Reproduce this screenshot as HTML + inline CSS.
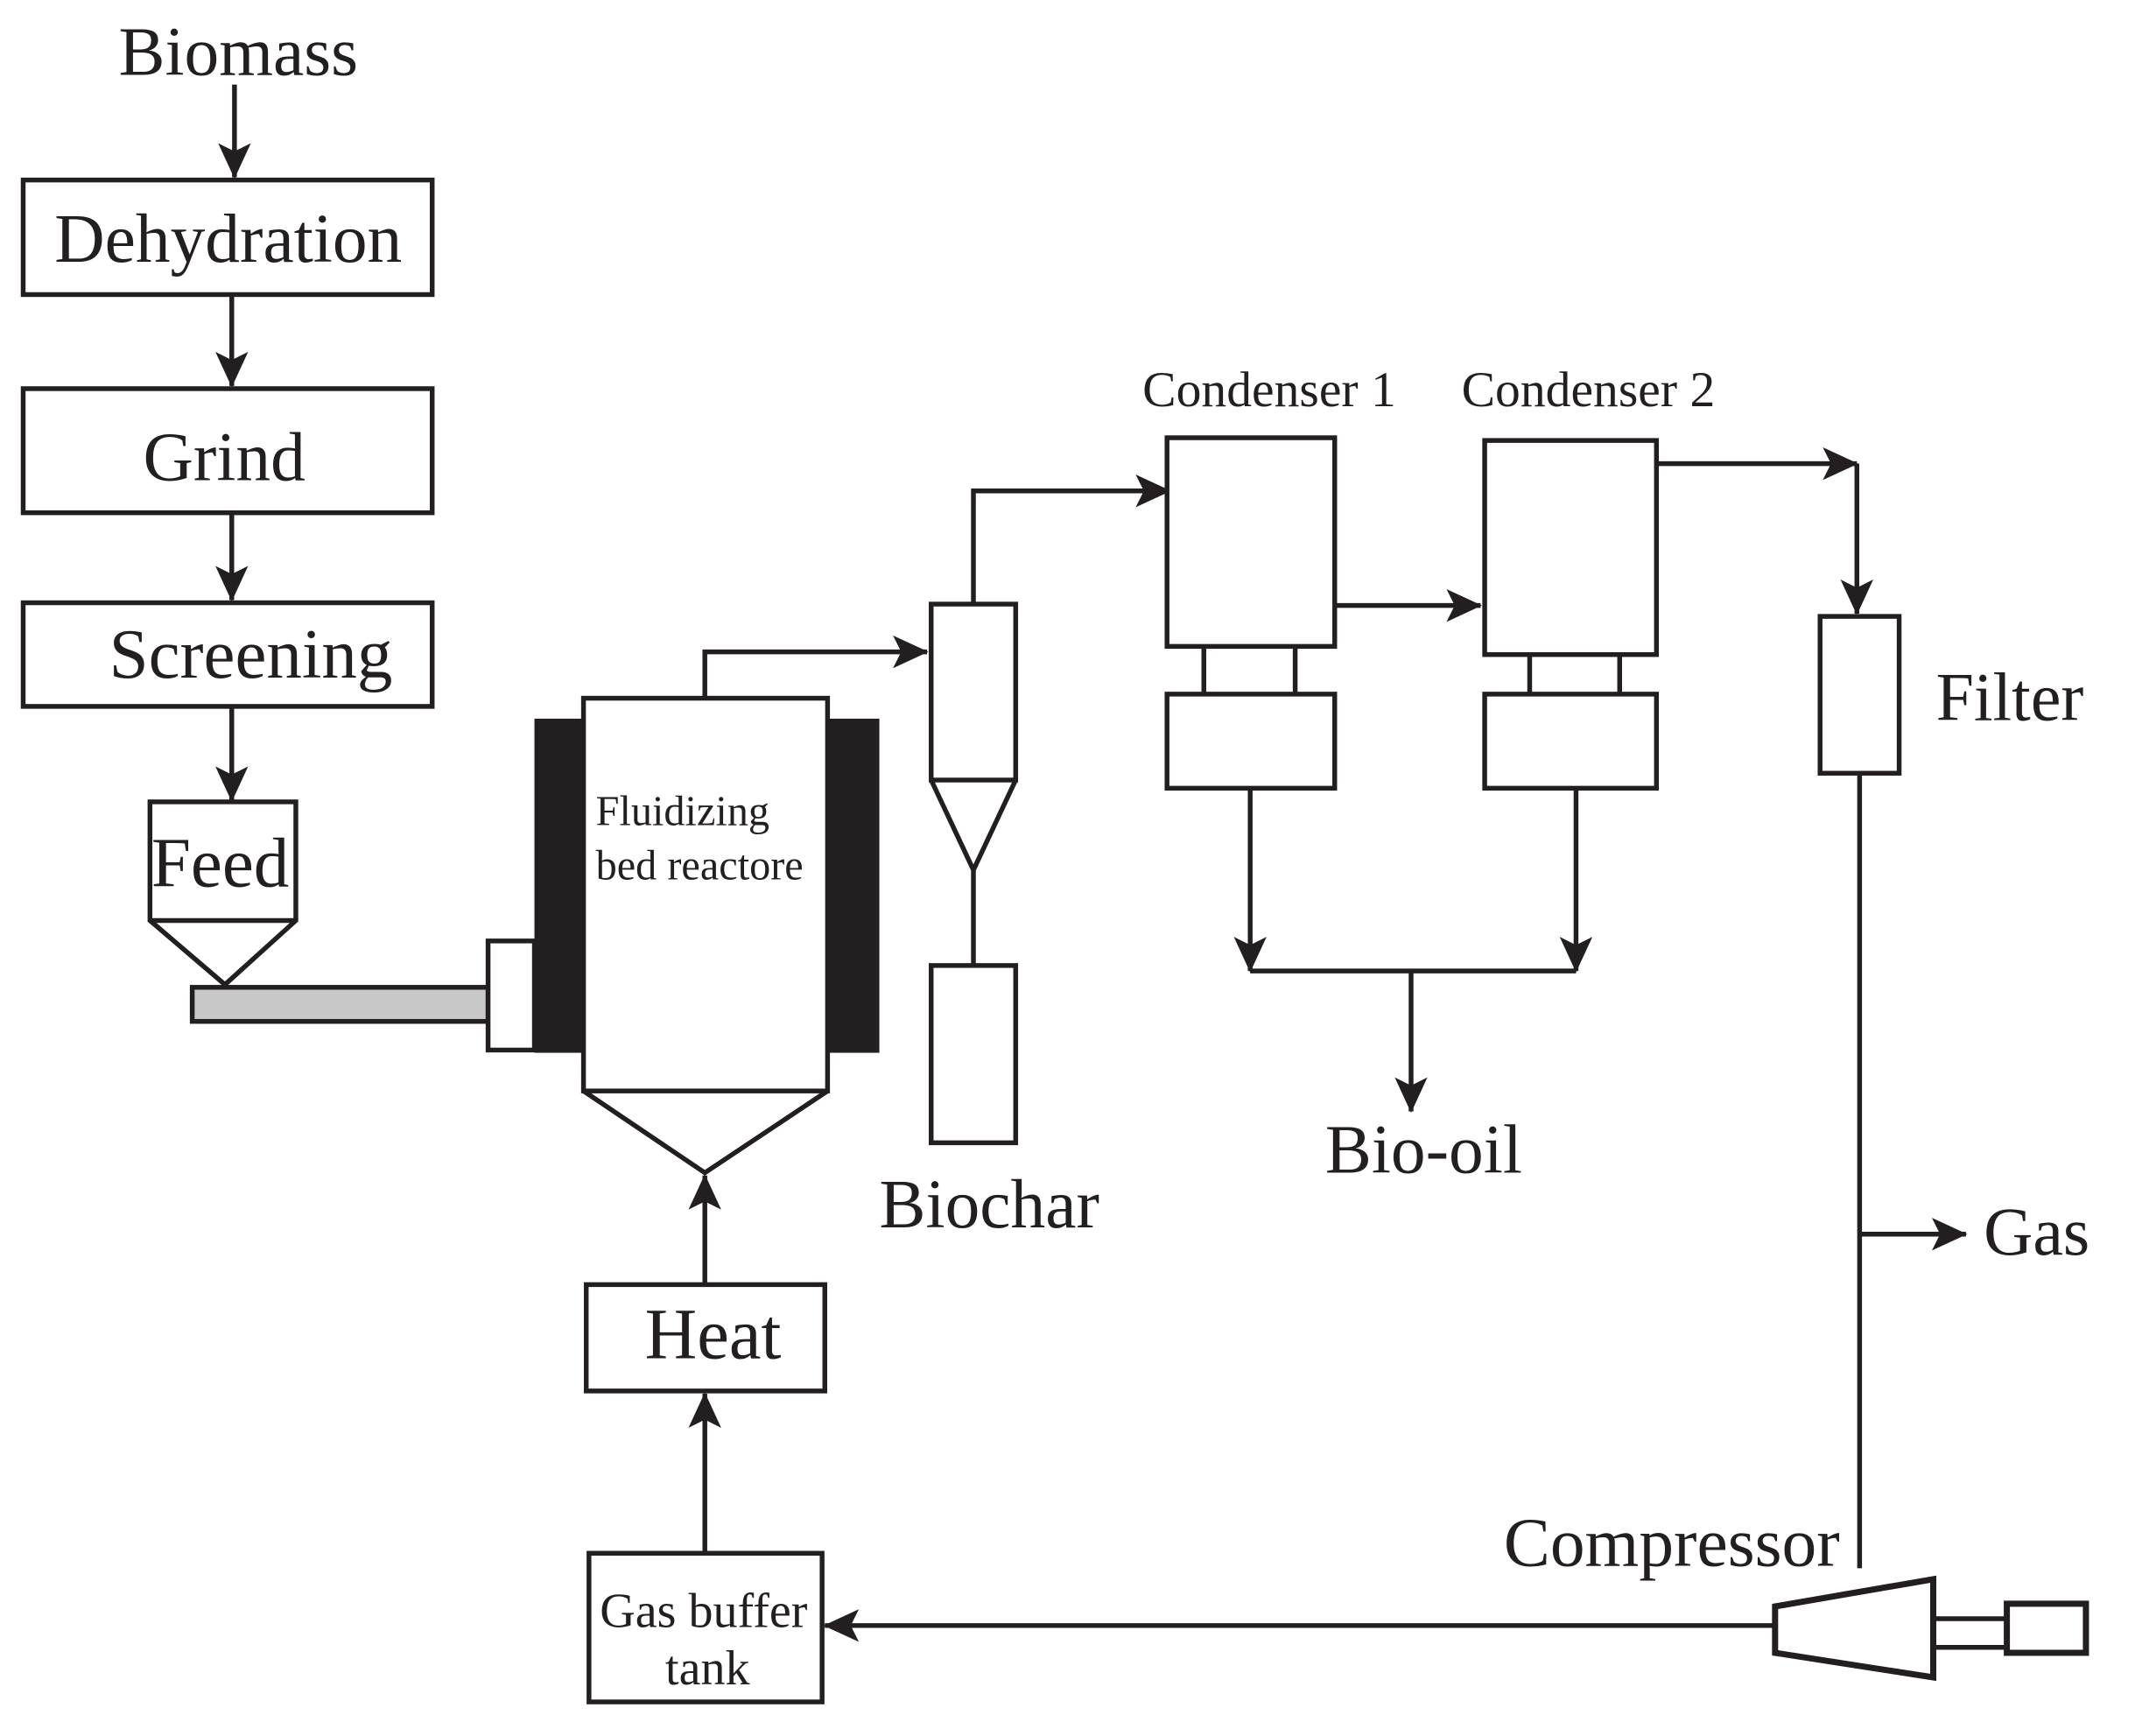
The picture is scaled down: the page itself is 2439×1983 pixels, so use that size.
<!DOCTYPE html>
<html><head><meta charset="utf-8"><style>
html,body{margin:0;padding:0;background:#fff;}
svg{display:block;}
text{font-family:"Liberation Serif",serif;fill:#231f20;}
</style></head><body>
<svg width="2439" height="1983" viewBox="0 0 1566 1273" preserveAspectRatio="none" xmlns="http://www.w3.org/2000/svg">
<defs>
<marker id="a" viewBox="0 0 26 24" refX="25" refY="12" markerWidth="26" markerHeight="24" markerUnits="userSpaceOnUse" orient="auto">
<path d="M0,0 L26,12 L0,24 L6,12 Z" fill="#231f20"/>
</marker>
</defs>
<g stroke="#231f20" stroke-width="3.5" fill="none">
<line x1="172" y1="62" x2="172" y2="130" marker-end="url(#a)"/>
<rect x="17" y="132" width="300" height="84" fill="#fff"/>
<line x1="170" y1="216" x2="170" y2="283" marker-end="url(#a)"/>
<rect x="17" y="285" width="300" height="91" fill="#fff"/>
<line x1="170" y1="376" x2="170" y2="440" marker-end="url(#a)"/>
<rect x="17" y="442" width="300" height="76" fill="#fff"/>
<line x1="170" y1="518" x2="170" y2="587" marker-end="url(#a)"/>
<path d="M110,588 H217 V675 L165,722 L110,675 Z" fill="#fff"/>
<line x1="110" y1="675" x2="217" y2="675"/>
<rect x="141" y="724" width="217" height="25" fill="#c8c8c8"/>
<rect x="358" y="690" width="34" height="80" fill="#fff"/>
<rect x="392" y="527" width="36" height="245" fill="#231f20" stroke="none"/>
<rect x="607" y="527" width="38" height="245" fill="#231f20" stroke="none"/>
<rect x="428" y="512" width="179" height="288" fill="#fff"/>
<path d="M428,800 L517,860 L607,800"/>
<polyline points="517,512 517,478 680,478" marker-end="url(#a)"/>
<rect x="683" y="443" width="62" height="129" fill="#fff"/>
<path d="M683,572 L714,638 L745,572"/>
<line x1="714" y1="638" x2="714" y2="708"/>
<rect x="683" y="708" width="62" height="130" fill="#fff"/>
<polyline points="714,443 714,360 858,360" marker-end="url(#a)"/>
<rect x="856" y="321" width="123" height="153" fill="#fff"/>
<line x1="883" y1="474" x2="883" y2="509"/><line x1="950" y1="474" x2="950" y2="509"/>
<rect x="856" y="509" width="123" height="69" fill="#fff"/>
<line x1="979" y1="444" x2="1086" y2="444" marker-end="url(#a)"/>
<rect x="1089" y="323" width="126" height="157" fill="#fff"/>
<line x1="1122" y1="480" x2="1122" y2="509"/><line x1="1188" y1="480" x2="1188" y2="509"/>
<rect x="1089" y="509" width="126" height="69" fill="#fff"/>
<line x1="1215" y1="340" x2="1362" y2="340" marker-end="url(#a)"/>
<line x1="1362" y1="340" x2="1362" y2="450" marker-end="url(#a)"/>
<rect x="1335" y="452" width="58" height="115" fill="#fff"/>
<line x1="1364" y1="567" x2="1364" y2="1150"/>
<line x1="1364" y1="905" x2="1442" y2="905" marker-end="url(#a)"/>
<line x1="917" y1="578" x2="917" y2="712" marker-end="url(#a)"/>
<line x1="1156" y1="578" x2="1156" y2="712" marker-end="url(#a)"/>
<line x1="917" y1="712" x2="1156" y2="712"/>
<line x1="1035" y1="712" x2="1035" y2="815" marker-end="url(#a)"/>
<path d="M1302,1178 L1418,1158 L1418,1230 L1302,1212 Z" fill="#fff" stroke-width="4.5"/>
<line x1="1418" y1="1187" x2="1472" y2="1187"/>
<line x1="1418" y1="1208" x2="1472" y2="1208"/>
<rect x="1472" y="1176" width="58" height="36" fill="#fff" stroke-width="4.5"/>
<line x1="1302" y1="1192" x2="605" y2="1192" marker-end="url(#a)"/>
<rect x="432" y="1139" width="171" height="109" fill="#fff"/>
<line x1="517" y1="1139" x2="517" y2="1022" marker-end="url(#a)"/>
<rect x="430" y="942" width="175" height="78" fill="#fff"/>
<line x1="517" y1="942" x2="517" y2="862" marker-end="url(#a)"/>
</g>
<g>
<text x="87" y="55" font-size="51">Biomass</text>
<text x="40" y="192" font-size="51">Dehydration</text>
<text x="105" y="352" font-size="51">Grind</text>
<text x="80" y="497" font-size="52">Screening</text>
<text x="111" y="650" font-size="52">Feed</text>
<text x="437" y="605" font-size="31">Fluidizing</text>
<text x="437" y="645" font-size="31">bed reactore</text>
<text x="645" y="900" font-size="51">Biochar</text>
<text x="838" y="298" font-size="37">Condenser 1</text>
<text x="1072" y="298" font-size="37">Condenser 2</text>
<text x="1420" y="528" font-size="50">Filter</text>
<text x="1455" y="920" font-size="50">Gas</text>
<text x="972" y="860" font-size="51">Bio-oil</text>
<text x="1103" y="1148" font-size="51">Compressor</text>
<text x="440" y="1193" font-size="36">Gas buffer</text>
<text x="488" y="1235" font-size="36">tank</text>
<text x="473" y="996" font-size="53">Heat</text>
</g>
</svg>
</body></html>
